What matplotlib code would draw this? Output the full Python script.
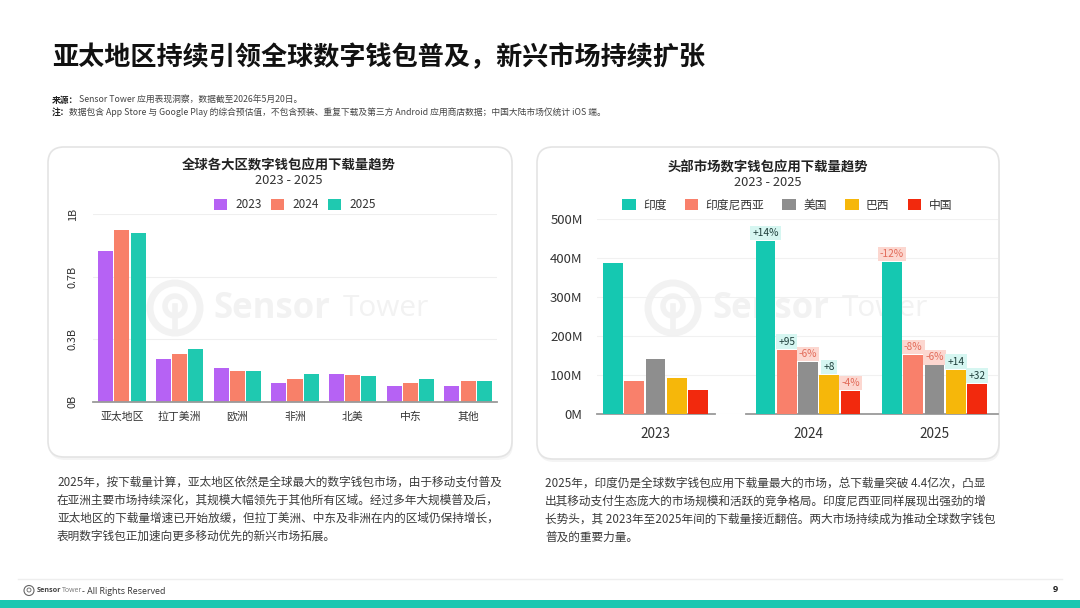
import matplotlib
matplotlib.use("Agg")
import matplotlib.pyplot as plt
import numpy as np
from matplotlib.patches import FancyBboxPatch, Circle, Rectangle

plt.rcParams['font.family'] = ['Noto Sans CJK SC', 'DejaVu Sans']

# ---------------- data ----------------
regions = ["亚太地区", "拉丁美洲", "欧洲", "非洲", "北美", "中东", "其他"]
region_years = ["2023", "2024", "2025"]
dl_2023 = [0.805, 0.229, 0.178, 0.098, 0.147, 0.082, 0.085]   # billions
dl_2024 = [0.917, 0.252, 0.165, 0.121, 0.142, 0.101, 0.108]
dl_2025 = [0.899, 0.282, 0.165, 0.146, 0.135, 0.121, 0.112]
left_ticks = [0, 1/3, 2/3, 1.0]
left_tick_labels = ["0B", "0.3B", "0.7B", "1B"]

markets = ["印度", "印度尼西亚", "美国", "巴西", "中国"]
market_years = ["2023", "2024", "2025"]
india = [388, 443, 390]          # millions
indonesia = [84, 165, 151]
usa = [141, 133, 125]
brazil = [93, 100, 114]
china = [62, 59.5, 78]
change_2024 = ["+14%", "+95", "-6%", "+8", "-4%"]
change_2025 = ["-12%", "-8%", "-6%", "+14", "+32"]
right_ticks = [0, 100, 200, 300, 400, 500]
right_tick_labels = ["0M", "100M", "200M", "300M", "400M", "500M"]

left_colors = ["#B662F4", "#F88069", "#1FC9B0"]
right_colors = ["#15C8B1", "#F9806B", "#8E8E8E", "#F6B70A", "#F2290D"]

W, H = 1080, 608
fig = plt.figure(figsize=(W / 100, H / 100), dpi=100)
fig.patch.set_facecolor("white")


def rect(x0, y0, x1, y1):
    return [x0 / W, 1 - y1 / H, (x1 - x0) / W, (y1 - y0) / H]


# ---------------- background / page ----------------
bg = fig.add_axes([0, 0, 1, 1])
bg.set_xlim(0, W)
bg.set_ylim(H, 0)
bg.axis("off")

bg.text(52, 58, "亚太地区持续引领全球数字钱包普及，新兴市场持续扩张", fontsize=18.8,
        fontweight="bold", color="#111111", va="center", ha="left")
bg.text(52, 100, "来源：", fontsize=6.3, fontweight="bold", color="#222222", va="center")
bg.text(79, 100, "Sensor Tower 应用表现洞察，数据截至2026年5月20日。", fontsize=6.3,
        color="#444444", va="center")
bg.text(52, 112, "注：", fontsize=6.3, fontweight="bold", color="#222222", va="center")
bg.text(69, 112, "数据包含 App Store 与 Google Play 的综合预估值，不包含预装、重复下载及第三方 "
        "Android 应用商店数据；中国大陆市场仅统计 iOS 端。", fontsize=6.3, color="#444444",
        va="center")

# cards
for (cx, cy, cw, ch) in [(48, 147, 464, 310), (537, 147, 462, 312)]:
    sh = FancyBboxPatch((cx + 1, cy + 3), cw, ch, boxstyle="round,pad=0,rounding_size=16",
                        fc="#000000", alpha=0.045, lw=0)
    bg.add_patch(sh)
    card = FancyBboxPatch((cx, cy), cw, ch, boxstyle="round,pad=0,rounding_size=16",
                          fc="white", ec="#e4e4e4", lw=1.2)
    bg.add_patch(card)

# watermarks
wm = "#f2f2f2"
for (lx, tx, tx2) in [(175, 213, 343), (673, 712, 842)]:
    bg.add_patch(Circle((lx, 308), 25, fill=False, ec=wm, lw=5))
    bg.add_patch(Circle((lx, 306), 10, fill=False, ec=wm, lw=4))
    bg.plot([lx, lx], [306, 333], color=wm, lw=4)
    bg.text(tx, 309, "Sensor", fontsize=25, fontweight="bold", color=wm, va="center",
            family=["Open Sans", "DejaVu Sans"])
    bg.text(tx2, 309, "Tower", fontsize=21.5, color=wm, va="center",
            family=["Open Sans", "DejaVu Sans"])

# chart titles
bg.text(289, 166, "全球各大区数字钱包应用下载量趋势", fontsize=9.6, fontweight="bold",
        color="#222222", ha="center", va="center")
bg.text(289, 180, "2023 - 2025", fontsize=9.3, color="#333333", ha="center", va="center")
bg.text(768, 168, "头部市场数字钱包应用下载量趋势", fontsize=9.6, fontweight="bold",
        color="#222222", ha="center", va="center")
bg.text(768, 182, "2023 - 2025", fontsize=9.3, color="#333333", ha="center", va="center")

# paragraphs
left_par = ["2025年，按下载量计算，亚太地区依然是全球最大的数字钱包市场，由于移动支付普及",
            "在亚洲主要市场持续深化，其规模大幅领先于其他所有区域。经过多年大规模普及后，",
            "亚太地区的下载量增速已开始放缓，但拉丁美洲、中东及非洲在内的区域仍保持增长，",
            "表明数字钱包正加速向更多移动优先的新兴市场拓展。"]
right_par = ["2025年，印度仍是全球数字钱包应用下载量最大的市场，总下载量突破 4.4亿次，凸显",
             "出其移动支付生态庞大的市场规模和活跃的竞争格局。印度尼西亚同样展现出强劲的增",
             "长势头，其 2023年至2025年间的下载量接近翻倍。两大市场持续成为推动全球数字钱包",
             "普及的重要力量。"]
for i, line in enumerate(left_par):
    bg.text(57, 482 + 18 * i, line, fontsize=8.4, color="#3a3a3a", va="center")
for i, line in enumerate(right_par):
    bg.text(545, 483 + 18 * i, line, fontsize=8.4, color="#3a3a3a", va="center")

# footer
bg.plot([18, 1062], [579, 579], color="#eeeeee", lw=1)
bg.add_patch(Rectangle((0, 600), W, 8, fc="#1CC7B1", ec="none"))
bg.add_patch(Circle((29, 590.5), 5, fill=False, ec="#666666", lw=0.8))
bg.add_patch(Circle((29, 590), 2, fill=False, ec="#666666", lw=0.6))
bg.text(37, 591, "Sensor", fontsize=5.2, fontweight="bold", color="#444444", va="center",
        family=["Open Sans", "DejaVu Sans"])
bg.text(61.5, 591, "Tower", fontsize=5.0, color="#777777", va="center",
        family=["Open Sans", "DejaVu Sans"])
bg.text(82, 591, "- All Rights Reserved", fontsize=6.4, color="#333333", va="center",
        family=["Open Sans", "DejaVu Sans"])
bg.text(1055, 590, "9", fontsize=6.6, fontweight="bold", color="#222222", va="center",
        ha="center", family=["Open Sans", "DejaVu Sans"])

# ---------------- left chart ----------------
axl = fig.add_axes(rect(93, 214, 497, 401.7))
axl.patch.set_alpha(0)
x = np.arange(len(regions))
bw, step = 0.26, 0.282
left_bars = []
for k, (vals, col) in enumerate(zip([dl_2023, dl_2024, dl_2025], left_colors)):
    b = axl.bar(x + (k - 1) * step, vals, width=bw, color=col, zorder=3)
    left_bars.append(b)
axl.set_xlim(-0.5, len(regions) - 0.5)
axl.set_ylim(0, 1.0)
axl.set_yticks(left_ticks, left_tick_labels, rotation=90, va="center")
axl.set_xticks(x, regions)
axl.tick_params(axis="y", length=0, pad=11, labelsize=7.8, labelcolor="#333333")
axl.tick_params(axis="x", length=0, pad=7, labelsize=7.8, labelcolor="#333333")
axl.grid(axis="y", color="#efefef", lw=0.8, zorder=0)
for s in ["top", "right", "left"]:
    axl.spines[s].set_visible(False)
axl.spines["bottom"].set_color("#9a9a9a")
axl.spines["bottom"].set_linewidth(1.3)
axl.spines["bottom"].set_zorder(4)
axl.legend(left_bars, region_years, ncol=3, loc="center",
           bbox_to_anchor=(295 / W, 1 - 205 / H), bbox_transform=fig.transFigure,
           frameon=False, fontsize=8.5, handlelength=1.1, handleheight=1.1,
           handletextpad=0.7, columnspacing=0.8, labelcolor="#333333")

# ---------------- right chart ----------------
axg = fig.add_axes(rect(597, 219, 998, 414.3))
axg.patch.set_alpha(0)
axg.set_ylim(0, 500)
axg.set_yticks(right_ticks, right_tick_labels)
axg.set_xticks([])
axg.tick_params(axis="y", length=0, pad=10.3, labelsize=9.5, labelcolor="#333333")
axg.grid(axis="y", color="#f1f1f1", lw=0.8)
for s in axg.spines.values():
    s.set_visible(False)

series = [india, indonesia, usa, brazil, china]
unit = 126.5
rstep, rbw = 0.168, 0.158
ax1 = fig.add_axes(rect(597, 219, 715, 414.3))
ax2 = fig.add_axes(rect(746, 219, 998, 414.3))
ax1.set_xlim(-(655.5 - 597) / unit, (715 - 655.5) / unit)
ax2.set_xlim(-(808 - 746) / unit, 1 + (998 - 934.5) / unit)
changes = [change_2024, change_2025]
right_bars = []
for k, (vals, col) in enumerate(zip(series, right_colors)):
    off = (k - 2) * rstep
    b = ax1.bar([0 + off], vals[:1], width=rbw, color=col, zorder=3)
    right_bars.append(b)
    b2 = ax2.bar(np.arange(2) + off, vals[1:], width=rbw, color=col, zorder=3)
    for g in range(2):
        lab = changes[g][k]
        pos = lab.startswith("+")
        ax2.annotate(lab, (g + off, vals[1 + g]), xytext=(0, 2.3),
                     textcoords="offset points", ha="center", va="bottom",
                     fontsize=7.3, color="#1f3f3b" if pos else "#e26b59",
                     fontweight="medium" if pos else "normal",
                     bbox=dict(boxstyle="square,pad=0.22",
                               fc="#d6f6f1" if pos else "#fcd7d0", ec="none"),
                     zorder=5)
ax1.set_xticks([0], market_years[:1])
ax2.set_xticks(np.arange(2), market_years[1:])
for a in (ax1, ax2):
    a.patch.set_alpha(0)
    a.set_ylim(0, 500)
    a.set_yticks([])
    a.tick_params(axis="x", length=0, pad=9, labelsize=9.8, labelcolor="#333333")
    for s in ["top", "right", "left"]:
        a.spines[s].set_visible(False)
    a.spines["bottom"].set_color("#9a9a9a")
    a.spines["bottom"].set_linewidth(1.3)
ax2.legend(right_bars, markets, ncol=5, loc="center",
           bbox_to_anchor=(787 / W, 1 - 205 / H), bbox_transform=fig.transFigure,
           frameon=False, fontsize=8.5, handlelength=1.16, handleheight=1.16,
           handletextpad=0.6, columnspacing=1.55, labelcolor="#333333")

fig.savefig("out.png", dpi=100, facecolor="white")
